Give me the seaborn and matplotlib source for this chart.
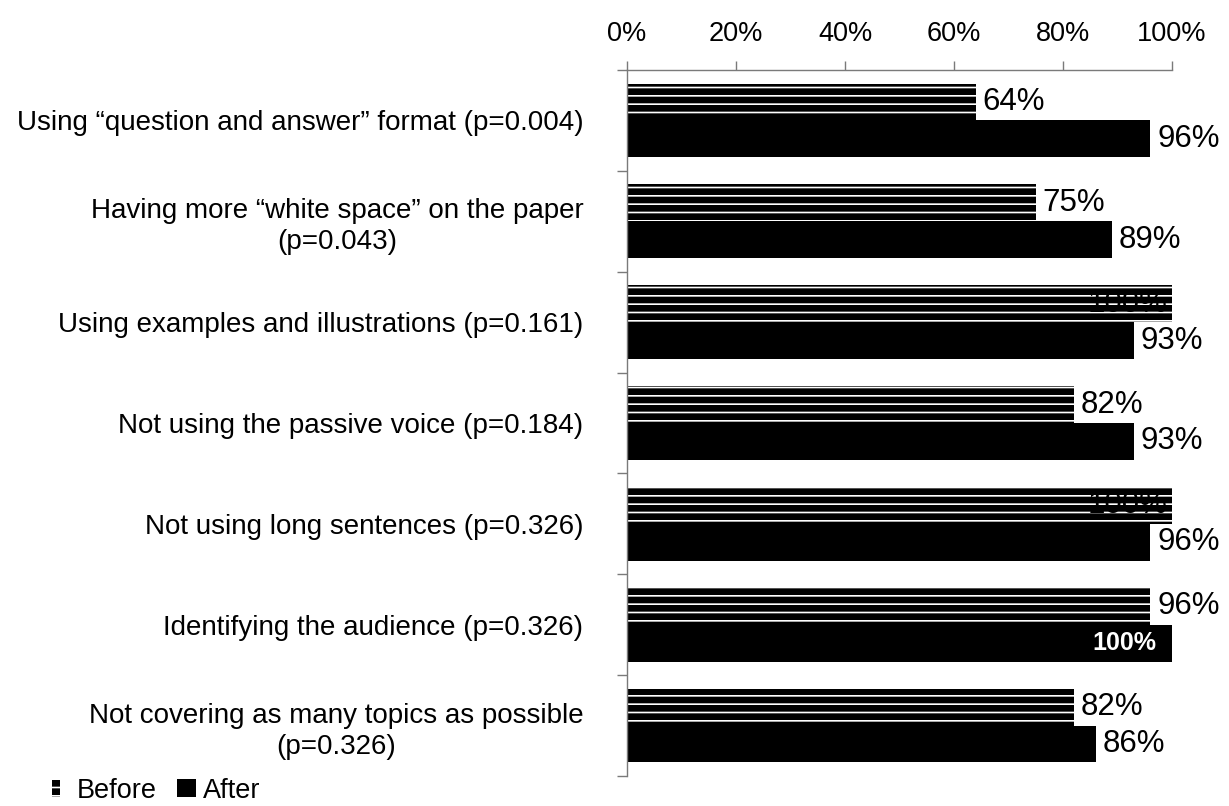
import matplotlib
matplotlib.use("Agg")
import matplotlib.pyplot as plt
from matplotlib.patches import Patch, Rectangle
from matplotlib.legend_handler import HandlerPatch
from matplotlib.ticker import FixedLocator, PercentFormatter
import seaborn as sns
import pandas as pd

categories = [
    "Using \u201cquestion and answer\u201d format (p=0.004)",
    "Having more \u201cwhite space\u201d on the paper\n(p=0.043)",
    "Using examples and illustrations (p=0.161)",
    "Not using the passive voice (p=0.184)",
    "Not using long sentences (p=0.326)",
    "Identifying the audience (p=0.326)",
    "Not covering as many topics as possible\n(p=0.326)",
]
before = [64, 75, 100, 82, 100, 96, 82]
after = [96, 89, 93, 93, 96, 100, 86]
series = ["Before", "After"]
x_ticks = [0, 20, 40, 60, 80, 100]

sns.set_style("white")
plt.rcParams["font.family"] = ["Liberation Sans", "DejaVu Sans"]
plt.rcParams["hatch.linewidth"] = 1.2
plt.rcParams["text.color"] = "black"
plt.rcParams["xtick.labelcolor"] = "black"
plt.rcParams["ytick.labelcolor"] = "black"

df = pd.DataFrame({
    "Category": categories * 2,
    "Value": before + after,
    "When": [series[0]] * len(categories) + [series[1]] * len(categories),
})

fig = plt.figure(figsize=(12.29, 8.06), dpi=100)
ax = fig.add_axes([0.5102, 0.0372, 0.4434, 0.8760])

sns.barplot(data=df, y="Category", x="Value", hue="When", hue_order=series,
            order=categories, orient="h", palette=["black", "black"],
            saturation=1, width=0.73, gap=0, legend=False, ax=ax)

spine_col = "#7a7a7a"
before_bars = ax.containers[0]
after_bars = ax.containers[1]
for p in before_bars:
    p.set_hatch("--")
    p.set_edgecolor("white")
    p.set_linewidth(0)
for p in after_bars:
    p.set_edgecolor("none")
    p.set_linewidth(0)

# value labels
def label(bars, vals, inside_style):
    for p, v in zip(bars, vals):
        yc = p.get_y() + p.get_height() / 2
        x_end = p.get_x() + p.get_width()
        txt = f"{v:g}%"
        if v >= 100:
            ax.annotate(txt, xy=(x_end, yc), xytext=(inside_style["dx"], 0),
                        textcoords="offset points", ha="right", va="center",
                        fontsize=inside_style["size"], color=inside_style["color"],
                        fontweight=inside_style["weight"], clip_on=False)
        else:
            ax.annotate(txt, xy=(x_end, yc), xytext=(5, 0), textcoords="offset points",
                        ha="left", va="center", fontsize=22.5, color="black",
                        clip_on=False)

label(before_bars, before, {"dx": -3, "size": 22.5, "color": "black", "weight": "normal"})
label(after_bars, after, {"dx": -11, "size": 18, "color": "white", "weight": "bold"})

ax.set_xlim(0, 100)
ax.set_ylim(len(categories) - 0.5, -0.5)
ax.xaxis.set_major_locator(FixedLocator(x_ticks))
ax.xaxis.set_major_formatter(PercentFormatter(100, decimals=0))
ax.xaxis.tick_top()
ax.tick_params(axis="x", which="major", top=True, bottom=False, labeltop=True,
               labelbottom=False, length=6.5, width=1, color=spine_col,
               pad=10, labelsize=19.5, labelcolor="black")
ax.set_xlabel("")
ax.set_ylabel("")

ax.yaxis.set_minor_locator(FixedLocator([i - 0.5 for i in range(len(categories) + 1)]))
ax.tick_params(axis="y", which="major", length=0, pad=31.5, labelsize=20,
               labelcolor="black")
ax.tick_params(axis="y", which="minor", left=True, length=7.5, width=1, color=spine_col)
for t in ax.get_yticklabels():
    t.set_multialignment("center")
    t.set_linespacing(1.25)

for s in ["right", "bottom"]:
    ax.spines[s].set_visible(False)
for s in ["top", "left"]:
    ax.spines[s].set_color(spine_col)
    ax.spines[s].set_linewidth(1)

# legend
def narrow_patch(legend, orig_handle, xdescent, ydescent, width, height, fontsize):
    return Rectangle((-xdescent, -ydescent), width * 0.48, height)

handles = [Patch(facecolor="black", edgecolor="white", hatch="--", linewidth=0),
           Patch(facecolor="black", edgecolor="none", linewidth=0)]
leg = fig.legend(handles, series, loc="center left", bbox_to_anchor=(0.042, 0.019),
                 frameon=False, fontsize=19.5, handlelength=0.67, handleheight=0.63,
                 handletextpad=0.27, columnspacing=0.75, ncol=2, borderpad=0,
                 borderaxespad=0,
                 handler_map={handles[0]: HandlerPatch(patch_func=narrow_patch)})
for t in leg.get_texts():
    t.set_color("black")

fig.savefig("out.png", dpi=100)
